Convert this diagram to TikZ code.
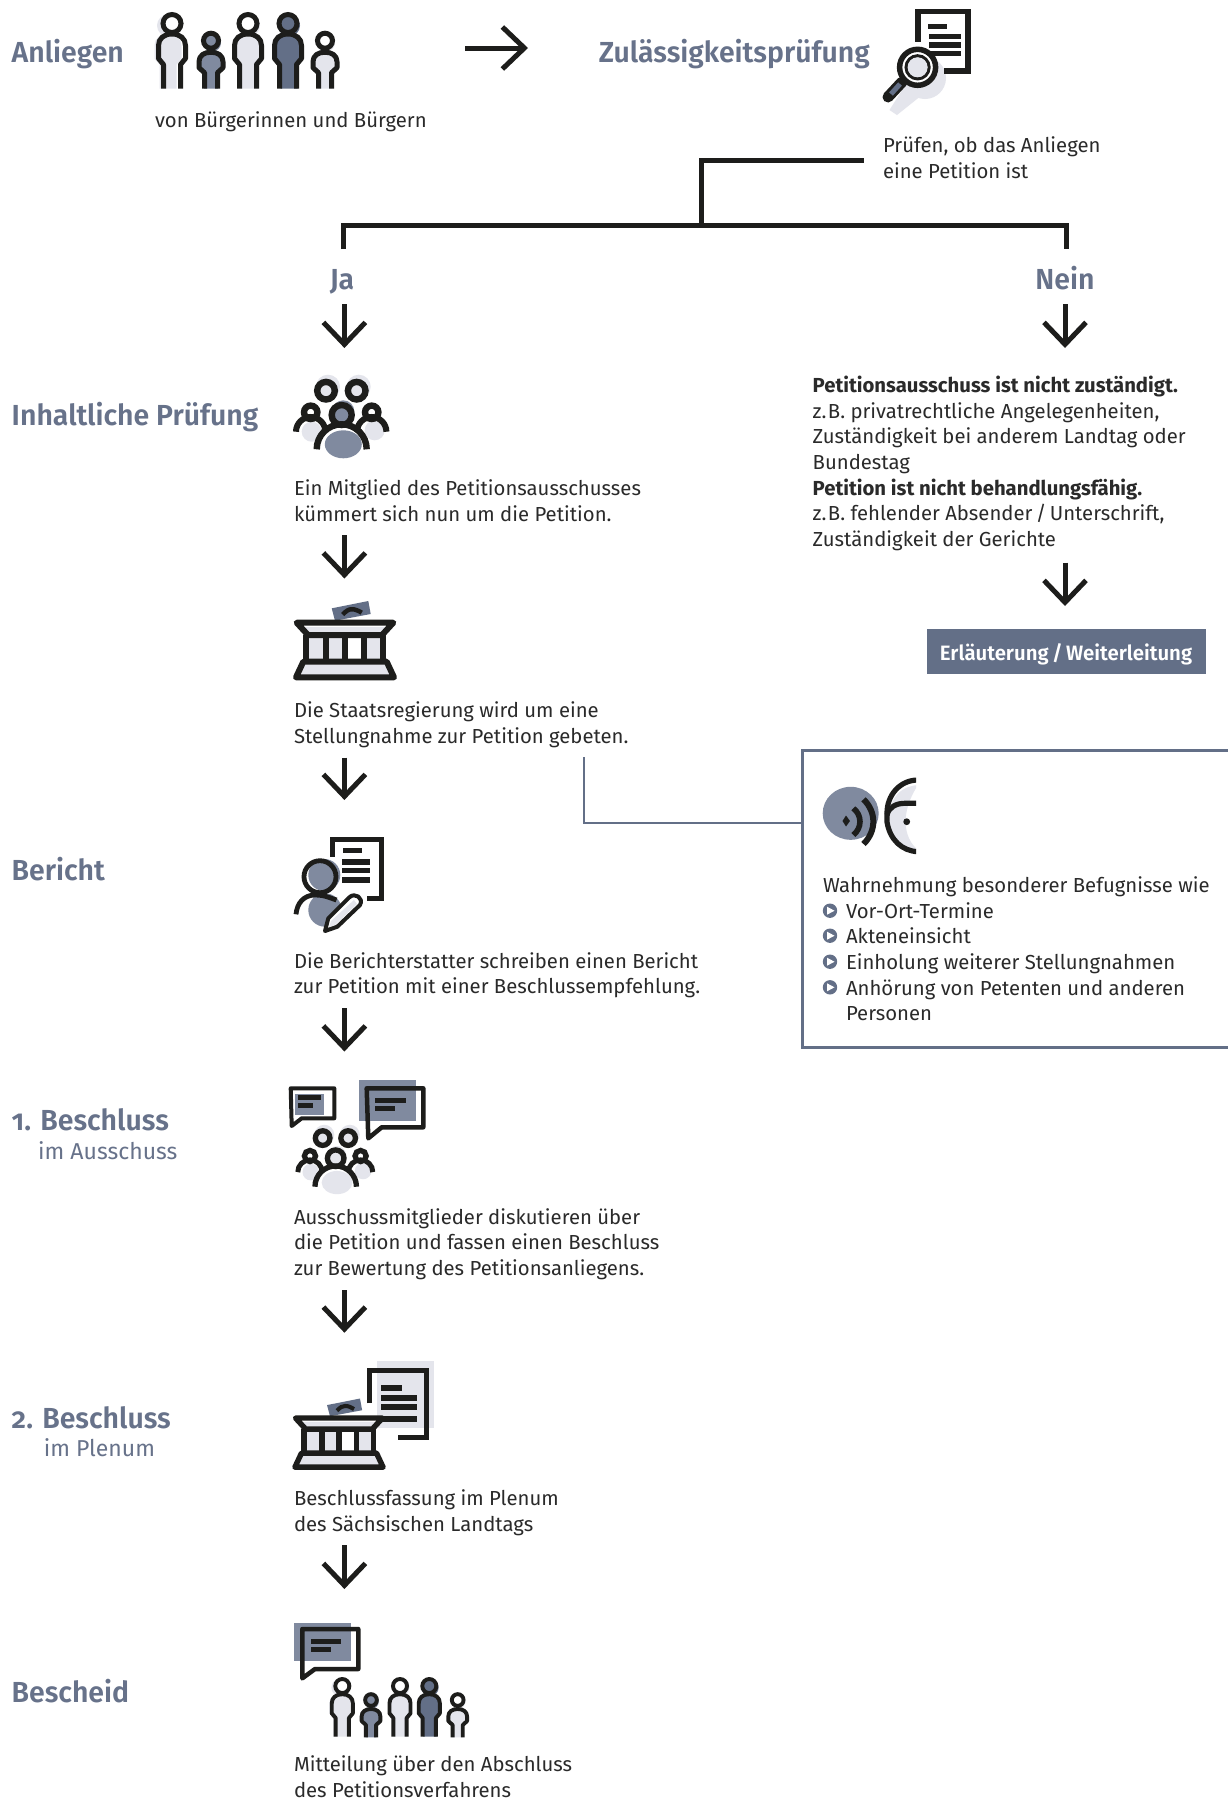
\documentclass[tikz,border=0pt]{standalone}
\usepackage{fontspec}
\usetikzlibrary{arrows.meta}
\setmainfont{Fira Sans}
\newfontfamily\headfont[FakeStretch=0.98,Numbers=OldStyle]{Fira Sans SemiBold}
\definecolor{ink}{HTML}{1D1D1B}
\definecolor{slateD}{HTML}{636F87}
\definecolor{slateM}{HTML}{808A9F}
\definecolor{slateL}{HTML}{E4E5EC}
\definecolor{headc}{HTML}{67728A}
\definecolor{txt}{HTML}{2A2A2A}
\tikzset{
  body/.style={font=\fontsize{20.3}{25.7}\selectfont,text=txt,inner sep=0pt,outer sep=0pt,align=left,anchor=north west},
  head/.style={font=\headfont\fontsize{29}{31}\selectfont,text=headc,inner sep=0pt,anchor=base west},
  sub/.style={font=\fontsize{23}{25}\selectfont,text=headc,inner sep=0pt,anchor=base west},
  flowarrow/.style={draw=ink,line width=5pt,-{Straight Barb[length=22pt,width=42pt,line width=5pt]}},
  bracket/.style={draw=ink,line width=5pt,miter limit=10},
  side/.style={draw=slateD,line width=2.8pt},
  bar/.style={fill=ink,draw=none},
}
% person: x, head y, scale, fill, head fill, fill dx
\newcommand{\bigperson}[6]{\begin{scope}[shift={(#1,#2)},scale=#3]
  \fill[#4] (#6pt,-2pt) circle (11pt);
  \fill[#4] (-8.5+#6,65)--(-8.5+#6,41)--(-13.5+#6,35)--(-13.5+#6,22) .. controls (-13.5+#6,15) and (-8+#6,10.5) .. (#6,10.5) .. controls (8+#6,10.5) and (13.5+#6,15) .. (13.5+#6,22)--(13.5+#6,35)--(8.5+#6,41)--(8.5+#6,65)--cycle;
  \fill[#5] (0,0) circle (9pt);
  \draw[ink,line width=#3*5pt] (0,0) circle (9pt);
  \draw[ink,line width=#3*5pt,line join=round] (-8.5,65)--(-8.5,41)--(-13.5,35)--(-13.5,22) .. controls (-13.5,15) and (-8,10.5) .. (0,10.5) .. controls (8,10.5) and (13.5,15) .. (13.5,22)--(13.5,35)--(8.5,41)--(8.5,65);
\end{scope}}
\newcommand{\smallperson}[5]{\begin{scope}[shift={(#1,#2)},scale=#3]
  \fill[#4] (1pt,-2pt) circle (9pt);
  \fill[#4] (-7,48)--(-7,31)--(-12,26)--(-12,21) .. controls (-12,15) and (-7,11.5) .. (0,11.5) .. controls (7,11.5) and (12,15) .. (12,21)--(12,26)--(7,31)--(7,48)--cycle;
  \fill[#5] (0,0) circle (7.5pt);
  \draw[ink,line width=#3*5pt] (0,0) circle (7.5pt);
  \draw[ink,line width=#3*5pt,line join=round] (-6.5,48)--(-6.5,32)--(-12,27)--(-12,21) .. controls (-12,15) and (-7,11.5) .. (0,11.5) .. controls (7,11.5) and (12,15) .. (12,21)--(12,27)--(6.5,32)--(6.5,48);
\end{scope}}
% committee: x, y, scale, central colour
\newcommand{\committee}[4]{\begin{scope}[shift={(#1,#2)},scale=#3]
  \fill[slateL] (-13.7,-62.6) circle (12pt);
  \fill[slateL] (17,-62.6) circle (12pt);
  \fill[slateL] (-30,-17.6) circle (10pt);
  \fill[slateL] (33,-19) circle (10pt);
  \fill[#4] (1.6,-38) circle (11pt);
  \fill[slateL] (-15.7,-58.6) circle (9pt);
  \fill[slateL] (15,-58.6) circle (9pt);
  \draw[ink,line width=#3*6.4pt] (-15.7,-58.6) circle (8.8pt);
  \draw[ink,line width=#3*6.4pt] (15,-58.6) circle (8.8pt);
  \draw[ink,line width=#3*6.4pt] (-31,-37) circle (6.7pt);
  \draw[ink,line width=#3*6.4pt] (30,-37) circle (6.7pt);
  \draw[ink,line width=#3*6pt] (-45.7,-17.6) .. controls (-45.7,-25.7) and (-39.1,-32.3) .. (-31,-32.3) .. controls (-22.9,-32.3) and (-16.3,-25.7) .. (-16.3,-17.6);
  \draw[ink,line width=#3*6pt] (15.3,-17.6) .. controls (15.3,-25.7) and (21.9,-32.3) .. (30,-32.3) .. controls (38.1,-32.3) and (44.7,-25.7) .. (44.7,-17.6);
  \draw[ink,line width=#3*6.4pt] (0,-34.3) circle (10pt);
  \fill[#4] (1.6,-5) ellipse (18.5pt and 14pt);
  \draw[ink,line width=#3*6.4pt] (-25,0) .. controls (-25,-13.8) and (-13.8,-25) .. (0,-25) .. controls (13.8,-25) and (25,-13.8) .. (25,0);
\end{scope}}
% building: x, y, scale
\newcommand{\building}[3]{\begin{scope}[shift={(#1,#2)},scale=#3]
  \fill[slateD] (-13.3,-41.7)--(23.3,-49)--(25.7,-36)--(-10,-29.3)--cycle;
  \draw[ink,line width=#3*4.5pt] (-2.3,-35.5) .. controls (1,-39) and (4,-41) .. (6.7,-40.7) .. controls (10,-41) and (14,-39) .. (16.7,-37.3);
  \fill[slateL] (-41,-23)--(41,-23)--(35,-15)--(-35,-15)--cycle;
  \fill[slateL] (-36,-15) rectangle (-19,12);
  \fill[slateL] (-19,-15) rectangle (0,12);
  \fill[slateL] (19,-15) rectangle (36,12);
  \fill[slateL] (-39,12)--(39,12)--(45,25)--(-45,25)--cycle;
  \draw[ink,line width=#3*6pt,line join=round] (-48.3,-27.3)--(48.3,-27.3)--(37,-15)--(-37,-15)--cycle;
  \draw[ink,line width=#3*6pt,line join=round] (-41.7,11.7)--(41.7,11.7)--(49,27.3)--(-49,27.3)--cycle;
  \foreach \cx in {-39,-19,0,19.3,38.3} {\draw[ink,line width=#3*6pt] (\cx,-15)--(\cx,11.7);}
\end{scope}}
\begin{document}
\begin{tikzpicture}[x=1pt,y=-1pt]
\useasboundingbox (0,0) rectangle (1227,1800);
\fill[white] (0,0) rectangle (1227,1800);
% ---- icons: people (top)
\bigperson{172}{23.5}{1}{slateL}{white}{-4}
\smallperson{211}{40.7}{1}{slateM}{slateM}
\bigperson{248}{23.5}{1}{slateL}{white}{1}
\bigperson{288}{23.5}{1}{slateD}{slateD}{1}
\smallperson{325}{40.7}{1}{slateL}{white}
% ---- magnifier and document
\fill[slateL] (925,78) circle (21pt);
\fill[slateL] (889.5,110)--(897,115)--(922,95)--(906,84)--cycle;
\draw[ink,line width=5.4pt,miter limit=10] (918,41.7)--(918,11.5)--(968,11.5)--(968,70.8)--(944,70.8);
\fill[bar] (928,24) rectangle (946.5,29.3);
\fill[bar] (929,34) rectangle (961,39.3);
\fill[bar] (929,42) rectangle (961,47.7);
\fill[bar] (929,50.7) rectangle (961,56);
\fill[white] (917.6,67.3) circle (20pt);
\draw[ink,line width=11pt,line cap=round] (902,82)--(888,97);
\draw[slateD,line width=5pt] (900,84)--(891,94);
\draw[ink,line width=5.5pt] (917.6,67.3) circle (18pt);
\draw[ink,line width=3.2pt] (917.6,67.3) circle (11.5pt);
\fill[slateL] (917.6,67.3) circle (10pt);
% ---- committee
\committee{341.7}{449.3}{1}{slateM}
\building{345}{650}{1}
% ---- report icon
\draw[ink,line width=5pt,miter limit=10] (332.3,856.7)--(332.3,839.3)--(381.7,839.3)--(381.7,898.7)--(367.3,898.7);
\fill[bar] (343.3,848.3) rectangle (361.7,853.3);
\fill[bar] (342,859.3) rectangle (370,865);
\fill[bar] (342,868.3) rectangle (370,873.3);
\fill[bar] (342,877) rectangle (370,882.7);
\fill[slateM] (324.3,875) circle (16pt);
\fill[slateM] (325,910) circle (16.7pt);
\draw[ink,line width=4.8pt] (320,876.7) circle (16pt);
\draw[ink,line width=4.8pt] (296,914.3) .. controls (297,903) and (304,895) .. (315,895) .. controls (325,895) and (330,898) .. (336.5,900);
\fill[white] (349.3,897.3)--(328.3,918.3)--(325,931)--(337.3,926.7)--(360,905)--cycle;
\fill[slateL] (354,900)--(331,921)--(329,927)--(335,925)--(357,904)--cycle;
\draw[ink,line width=4pt,line join=round] (349.3,897.3)--(328.3,918.3)--(325,931)--(337.3,926.7)--(360,905) .. controls (364,898) and (355,892) .. (349.3,897.3);
% ---- speech + committee
\fill[slateM] (295,1094) rectangle (324,1115);
\draw[ink,line width=4pt,line join=round] (290.7,1088.3)--(334.3,1088.3)--(334.3,1118.3)--(301.7,1118.3)--(291.7,1126)--cycle;
\fill[bar] (298.3,1095) rectangle (321,1100);
\fill[bar] (298.3,1103.3) rectangle (312.7,1107.7);
\fill[slateM] (359,1080) rectangle (416,1120.7);
\draw[ink,line width=4.5pt,line join=round] (366.7,1088.3)--(423.3,1088.3)--(423.3,1127.3)--(381.7,1127.3)--(368.3,1138.3)--cycle;
\fill[bar] (375,1098.3) rectangle (406,1103.3);
\fill[bar] (375,1106) rectangle (395,1110.7);
\committee{335.7}{1186.7}{0.83}{slateL}
% ---- building with document
\fill[slateL] (376.7,1360.7) rectangle (434,1428.3);
\draw[ink,line width=5pt,miter limit=10] (369.3,1403.3)--(369.3,1370)--(426,1370)--(426,1437.3)--(398.3,1437.3);
\fill[bar] (381,1385) rectangle (401.7,1390.7);
\fill[bar] (381,1395) rectangle (416.7,1400.7);
\fill[bar] (381,1404.3) rectangle (416.7,1410);
\fill[bar] (381,1416) rectangle (416.7,1421.7);
\building{339}{1442.6}{0.9}
% ---- Bescheid icon
\fill[slateM] (294,1623.3) rectangle (350.7,1660.7);
\draw[ink,line width=4.5pt,line join=round] (302.3,1629)--(358.3,1629)--(358.3,1669)--(315,1669)--(302.3,1678.3)--cycle;
\fill[bar] (311,1639.3) rectangle (341,1644);
\fill[bar] (311,1646.7) rectangle (331,1651.7);
\bigperson{342.3}{1686}{0.78}{slateL}{white}{-3}
\smallperson{371}{1700}{0.78}{slateM}{slateM}
\bigperson{400}{1686}{0.78}{slateL}{white}{1}
\bigperson{429.3}{1686}{0.78}{slateD}{slateD}{1}
\smallperson{457.7}{1700}{0.78}{slateL}{white}
% ---- side box
\draw[side] (1230,750.7)--(802.7,750.7)--(802.7,1047.3)--(1230,1047.3);
\coordinate (sideTop) at (584,757);
\coordinate (sideBend) at (584,823);
\coordinate (sideIn) at (802.7,823);
\draw[side,line width=2.4pt] (sideTop)--(sideBend)--(sideIn);
\fill[slateM] (850.7,813.3) ellipse (28pt and 26.5pt);
\fill[ink] (846,815.5) -- (850,821) -- (846,826.5) -- (842.5,821) -- cycle;
\draw[ink,line width=5.6pt] (853.3,808.3) .. controls (862.2,815) and (862.2,828) .. (853.3,835);
\draw[ink,line width=6pt] (863.5,799.3) .. controls (876.6,812) and (876.6,831) .. (863.5,844);
\begin{scope}
\clip (880,770) rectangle (916,860);
\fill[slateL] (918,785) .. controls (896,787) and (889,803) .. (889,820) .. controls (891,838) and (905,850) .. (918,850) .. controls (903,838) and (900,812) .. (918,785);
\draw[ink,line width=5.2pt] (918,780) .. controls (900,780) and (887,795) .. (887,813) -- (887,822) .. controls (890,840) and (902,851) .. (918,851.7);
\draw[ink,line width=5.2pt] (918,803.3)--(905,803.3) .. controls (896,803.3) and (889,807) .. (887,815);
\end{scope}
\fill[ink] (906.7,821.7) circle (3.4pt);
\foreach \by in {910.7,935.7,961.7,987.3} {
  \fill[slateD] (830,\by) circle (7.2pt);
  \fill[white] (827,\by-4) -- (834.5,\by) -- (827,\by+4) -- cycle;
}
% ---- connectors
\coordinate (topS) at (465,48);\coordinate (topE) at (528,48);
\draw[flowarrow] (topS)--(topE);
\coordinate (brA) at (863.5,160);\coordinate (brB) at (701.7,160);\coordinate (brC) at (701.7,225);
\coordinate (brL) at (343,249);\coordinate (brLt) at (343,225);\coordinate (brR) at (1066,249);\coordinate (brRt) at (1066,225);
\draw[bracket] (brA)--(brB)--(brC);
\draw[bracket] (brL)--(brLt)--(brRt)--(brR);
\coordinate (j1) at (344.4,304);\coordinate (j2) at (344.4,348);
\draw[flowarrow] (j1)--(j2);
\coordinate (n1) at (1065,304);\coordinate (n2) at (1065,348);
\draw[flowarrow] (n1)--(n2);
\coordinate (a3s) at (344.4,535);\coordinate (a3e) at (344.4,578.5);
\draw[flowarrow] (a3s)--(a3e);
\coordinate (a4s) at (344.4,757.6);\coordinate (a4e) at (344.4,800);
\draw[flowarrow] (a4s)--(a4e);
\coordinate (a5s) at (344.4,1008);\coordinate (a5e) at (344.4,1051.5);
\draw[flowarrow] (a5s)--(a5e);
\coordinate (a6s) at (344.4,1290);\coordinate (a6e) at (344.4,1332.7);
\draw[flowarrow] (a6s)--(a6e);
\coordinate (a7s) at (344.4,1545);\coordinate (a7e) at (344.4,1589);
\draw[flowarrow] (a7s)--(a7e);
\coordinate (r1) at (1065,562.5);\coordinate (r2) at (1065,606);
\draw[flowarrow] (r1)--(r2);
% ---- headings
\node[head] (hAnl) at (11.5,62) {Anliegen};
\node[head] (hZul) at (598.6,62) {Zulässigkeitsprüfung};
\node[head,anchor=base] (hJa) at (342,289.5) {Ja};
\node[head,anchor=base] (hNein) at (1065,289.5) {Nein};
\node[head] (hInh) at (11.5,425) {Inhaltliche Prüfung};
\node[head] (hBer) at (11.5,880.4) {Bericht};
\node[head] (hB1) at (11.5,1130.7) {1. Beschluss};
\node[sub] (hB1s) at (38,1159) {im Ausschuss};
\node[head] (hB2) at (11.5,1428) {2. Beschluss};
\node[sub] (hB2s) at (43.6,1456.6) {im Plenum};
\node[head] (hBes) at (11.5,1702.4) {Bescheid};
% ---- body texts
\node[body] (tVon) at (155,112) {von Bürgerinnen und Bürgern};
\node[body] (tPruef) at (883,137) {Prüfen, ob das Anliegen\\eine Petition ist};
\node[body] (tEin) at (294,479.8) {Ein Mitglied des Petitionsausschusses\\kümmert sich nun um die Petition.};
\node[body] (tSta) at (294,702) {Die Staatsregierung wird um eine\\Stellungnahme zur Petition gebeten.};
\node[body] (tDie) at (294,952.2) {Die Berichterstatter schreiben einen Bericht\\zur Petition mit einer Beschlussempfehlung.};
\node[body] (tAus) at (294,1208.2) {Ausschussmitglieder diskutieren über\\die Petition und fassen einen Beschluss\\zur Bewertung des Petitionsanliegens.};
\node[body] (tBes) at (294,1489.8) {Beschlussfassung im Plenum\\des Sächsischen Landtags};
\node[body] (tMit) at (294,1755.9) {Mitteilung über den Abschluss\\des Petitionsverfahrens};
\node[body] (tNein) at (812.7,375.9) {\textbf{Petitionsausschuss ist nicht zuständigt.}\\z.\hspace{1.5pt}B. privatrechtliche Angelegenheiten,\\Zuständigkeit bei anderem Landtag oder\\Bundestag\\\textbf{Petition ist nicht behandlungsfähig.}\\z.\hspace{1.5pt}B. fehlender Absender\,/\,Unterschrift,\\Zuständigkeit der Gerichte};
\node[body] (tWahr) at (823,876.4) {Wahrnehmung besonderer Befugnisse wie};
\node[body] (tL1) at (846,902.4) {Vor-Ort-Termine};
\node[body] (tL2) at (846,928.1) {Akteneinsicht};
\node[body] (tL3) at (846,953.4) {Einholung weiterer Stellungnahmen};
\node[body] (tL4) at (846,979.4) {Anhörung von Petenten und anderen\\Personen};
% ---- result box
\node[fill=slateD,minimum width=279pt,minimum height=45pt,inner sep=0pt,text=white,text height=22pt,text depth=5pt,font=\headfont\fontsize{20.8}{26}\selectfont] (bErl) at (1066,651.5) {Erläuterung\,/\,Weiterleitung};
\end{tikzpicture}
\end{document}
